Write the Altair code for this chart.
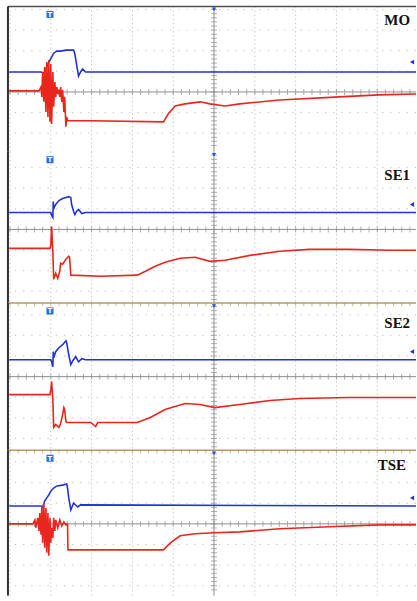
import altair as alt
import pandas as pd

# ---------------- data (time and voltage in screen divisions) ----------------
PANELS = ["MO", "SE1", "SE2", "TSE"]

MO_BLUE_T = [-5.02, -4.24, -4.17, -4.12, -4.07, -4.02, -3.98, -3.93, -3.85, -3.76, -3.63, -3.51, -3.44, -3.41, -3.37, -3.32, -3.27, -3.22, -3.15, 4.95]
MO_BLUE_V = [0.97, 0.97, 0.92, 1.11, 1.35, 1.55, 1.69, 1.88, 1.98, 1.98, 2.03, 2.03, 2.03, 1.84, 1.35, 0.77, 0.97, 1.11, 0.97, 0.97]
MO_RED_T = [-5.02, -4.29, -4.24, -4.22, -4.20, -4.17, -4.15, -4.12, -4.10, -4.07, -4.05, -4.02, -4.00, -3.98, -3.95, -3.93, -3.90, -3.88, -3.85, -3.83, -3.80, -3.78, -3.76, -3.73, -3.71, -3.68, -3.66, -3.63, -3.61, -3.59, -3.02, -1.24, -1.12, -0.95, -0.71, -0.34, -0.10, 0.27, 0.63, 1.61, 3.07, 4.05, 4.95]
MO_RED_V = [0.05, 0.05, 0.24, -0.24, 0.97, -0.48, 1.21, -0.97, 1.45, -1.21, 1.55, -1.45, 1.35, -1.55, 0.97, -0.72, 0.48, -0.24, 0.24, -0.10, 0.10, -0.24, 0.24, -0.48, 0.10, -0.97, -0.24, -1.69, -1.21, -1.40, -1.40, -1.45, -1.06, -0.68, -0.58, -0.48, -0.58, -0.68, -0.58, -0.39, -0.24, -0.14, -0.10]

SE1_BLUE_T = [-5.02, -4.00, -3.98, -3.95, -3.94, -3.93, -3.88, -3.80, -3.71, -3.56, -3.51, -3.49, -3.44, -3.41, -3.37, -3.32, -3.24, -3.15, 4.95]
SE1_BLUE_V = [0.82, 0.82, 0.68, 0.58, 1.35, 1.01, 1.21, 1.40, 1.50, 1.59, 1.55, 1.21, 0.87, 0.72, 0.87, 0.97, 0.77, 0.82, 0.82]
SE1_RED_T = [-5.02, -4.02, -4.00, -3.98, -3.95, -3.93, -3.88, -3.83, -3.78, -3.76, -3.71, -3.63, -3.56, -3.54, -3.51, -2.78, -1.88, -1.68, -1.44, -1.20, -0.83, -0.46, -0.10, 0.27, 0.88, 1.61, 2.34, 3.32, 4.29, 4.95]
SE1_RED_V = [-0.92, -0.92, -0.77, 0.14, -1.06, -2.42, -2.13, -2.37, -2.03, -1.64, -1.69, -1.45, -1.30, -1.35, -2.22, -2.27, -2.22, -2.03, -1.79, -1.59, -1.40, -1.35, -1.55, -1.50, -1.26, -1.06, -0.97, -0.97, -1.01, -1.01]

SE2_BLUE_T = [-5.02, -4.00, -3.98, -3.95, -3.94, -3.93, -3.88, -3.80, -3.71, -3.63, -3.61, -3.56, -3.51, -3.46, -3.39, -3.32, -3.24, -3.15, 4.95]
SE2_BLUE_V = [0.82, 0.82, 0.72, 0.48, 1.21, 0.92, 1.21, 1.40, 1.55, 1.74, 1.64, 1.06, 0.58, 0.77, 0.97, 0.72, 0.87, 0.82, 0.82]
SE2_RED_T = [-5.02, -4.02, -4.00, -3.98, -3.95, -3.93, -3.88, -3.80, -3.76, -3.71, -3.68, -3.66, -3.63, -3.61, -3.02, -2.90, -2.85, -1.88, -1.56, -1.20, -0.71, -0.34, 0.02, 0.63, 1.37, 2.10, 3.32, 4.95]
SE2_RED_V = [-0.87, -0.87, -0.63, -0.24, -1.11, -2.46, -2.32, -2.46, -2.27, -1.84, -1.50, -1.59, -2.17, -2.22, -2.22, -2.42, -2.22, -2.22, -1.98, -1.59, -1.30, -1.35, -1.50, -1.35, -1.16, -1.06, -1.01, -1.01]

TSE_BLUE_T = [-5.02, -4.24, -4.20, -4.15, -4.10, -4.05, -4.00, -3.93, -3.85, -3.71, -3.61, -3.59, -3.56, -3.51, -3.44, -3.34, -3.27, 4.95]
TSE_BLUE_V = [0.87, 0.87, 0.82, 1.11, 1.26, 1.40, 1.59, 1.74, 1.84, 1.88, 1.93, 1.74, 1.26, 0.68, 1.01, 0.82, 0.92, 0.87]
TSE_RED_T = [-5.02, -4.44, -4.39, -4.37, -4.32, -4.29, -4.27, -4.24, -4.22, -4.20, -4.17, -4.15, -4.12, -4.10, -4.07, -4.05, -4.02, -4.00, -3.98, -3.95, -3.93, -3.90, -3.88, -3.83, -3.78, -3.73, -3.68, -3.63, -3.59, -3.58, -2.78, -1.24, -1.07, -0.83, -0.46, 0.02, 0.63, 1.61, 2.83, 4.05, 4.95]
TSE_RED_V = [0.00, 0.00, 0.19, -0.19, 0.29, -0.34, 0.53, -0.53, 0.87, -0.92, 1.01, -1.16, 0.77, -1.40, 0.53, -1.55, 0.29, -0.92, -0.19, -0.68, 0.29, -0.34, 0.19, -0.19, 0.19, -0.10, 0.10, -0.05, 0.00, -1.26, -1.26, -1.26, -0.92, -0.58, -0.48, -0.43, -0.39, -0.24, -0.14, -0.05, -0.05]

TRACES = {
    "MO": (MO_BLUE_T, MO_BLUE_V, MO_RED_T, MO_RED_V),
    "SE1": (SE1_BLUE_T, SE1_BLUE_V, SE1_RED_T, SE1_RED_V),
    "SE2": (SE2_BLUE_T, SE2_BLUE_V, SE2_RED_T, SE2_RED_V),
    "TSE": (TSE_BLUE_T, TSE_BLUE_V, TSE_RED_T, TSE_RED_V),
}
CH1_OFFSET = [1.45, 1.21, 1.21, 1.26]   # channel-1 level marker at right edge
TRIGGER_T = -4.02                        # trigger position (divisions)

# ---------------- layout / style ----------------
BLUE = "#2233d4"
RED = "#e8261e"
GRID = "#bdbdbd"
AXIS = "#8e8e8e"
HEIGHTS = [146, 152, 148, 146]
Y_DOMAINS = [(-2.90, 4.15), (-3.57, 3.77), (-3.57, 3.57), (-3.48, 3.57)]
TOP_BORDER = ["#505050", None, "#b89a66", "#b89a66"]
LABEL_Y = [19, 28, 25, 20]
LABEL_X = [404, 404, 404, 400]
W = 410
X_DOMAIN = [-5.05, 4.95]


def panel(i):
    name = PANELS[i]
    bt, bv, rt, rv = TRACES[name]
    ylo, yhi = Y_DOMAINS[i]
    xs = alt.Scale(domain=X_DOMAIN, nice=False, zero=False)
    ys = alt.Scale(domain=[ylo, yhi], nice=False, zero=False)
    X = lambda f: alt.X(f, scale=xs, axis=None)
    Y = lambda f: alt.Y(f, scale=ys, axis=None)

    vgrid = pd.DataFrame({"x": [k for k in range(-5, 5) if k != 0]})
    hgrid = pd.DataFrame({"y": [k for k in range(-4, 5) if ylo < k < yhi and k != 0]})
    layers = [
        alt.Chart(vgrid).mark_rule(color=GRID, strokeWidth=1, strokeDash=[1.2, 2.94]).encode(x=X("x:Q")),
        alt.Chart(hgrid).mark_rule(color=GRID, strokeWidth=1, strokeDash=[1.2, 7.0]).encode(y=Y("y:Q")),
        alt.Chart(pd.DataFrame({"x": [0]})).mark_rule(color=AXIS, strokeWidth=1).encode(x=X("x:Q")),
        alt.Chart(pd.DataFrame({"y": [0]})).mark_rule(color=AXIS, strokeWidth=1).encode(y=Y("y:Q")),
    ]
    xt = pd.DataFrame({"x": [round(-5 + 0.2 * k, 2) for k in range(50)], "y": 0.0})
    yt = pd.DataFrame({"y": [round(-4 + 0.2 * k, 2) for k in range(41) if ylo + 0.1 < -4 + 0.2 * k < yhi - 0.1], "x": 0.0})
    layers.append(alt.Chart(xt).mark_tick(orient="vertical", size=6, thickness=1, color=AXIS).encode(x=X("x:Q"), y=Y("y:Q")))
    layers.append(alt.Chart(yt).mark_tick(orient="horizontal", size=6, thickness=1, color=AXIS).encode(x=X("x:Q"), y=Y("y:Q")))

    if TOP_BORDER[i]:
        layers.append(alt.Chart(pd.DataFrame({"y": [yhi]})).mark_rule(color=TOP_BORDER[i], strokeWidth=1.5).encode(y=Y("y:Q")))
        if i >= 2:
            tt = pd.DataFrame({"x": [round(-5 + 0.2 * k, 2) for k in range(50)], "y": yhi - 0.06})
            layers.append(alt.Chart(tt).mark_tick(orient="vertical", size=4, thickness=1, color=TOP_BORDER[i]).encode(x=X("x:Q"), y=Y("y:Q")))
    layers.append(alt.Chart(pd.DataFrame({"x": [X_DOMAIN[0]]})).mark_rule(color="#303030", strokeWidth=2).encode(x=X("x:Q")))

    rows = [{"ch": "CH1", "t": t, "v": v, "k": k} for k, (t, v) in enumerate(zip(bt, bv))]
    rows += [{"ch": "CH2", "t": t, "v": v, "k": k} for k, (t, v) in enumerate(zip(rt, rv))]
    df = pd.DataFrame(rows)
    layers.append(
        alt.Chart(df).mark_line(strokeWidth=1.6, clip=True).encode(
            x=X("t:Q"), y=Y("v:Q"),
            color=alt.Color("ch:N", scale=alt.Scale(domain=["CH1", "CH2"], range=[BLUE, RED]), legend=None),
            order="k:Q", detail="ch:N",
        )
    )
    # scope UI markers
    layers.append(alt.Chart(pd.DataFrame({"t": [TRIGGER_T]})).mark_square(color="#2a6fe0", opacity=1, size=50).encode(x=X("t:Q"), y=alt.value(8)))
    layers.append(alt.Chart(pd.DataFrame({"t": [TRIGGER_T], "s": ["T"]})).mark_text(color="white", fontSize=7, fontWeight="bold", font="DejaVu Sans").encode(x=X("t:Q"), y=alt.value(8.5), text="s:N"))
    layers.append(alt.Chart(pd.DataFrame({"t": [0]})).mark_point(shape="triangle-down", filled=True, color="#2a4fd0", size=18, opacity=1).encode(x=X("t:Q"), y=alt.value(3)))
    layers.append(alt.Chart(pd.DataFrame({"v": [CH1_OFFSET[i]]})).mark_point(shape="triangle-left", filled=True, color=BLUE, size=24, opacity=1).encode(x=alt.value(W - 4), y=Y("v:Q")))
    layers.append(
        alt.Chart(pd.DataFrame({"label": [name]})).mark_text(
            font="Liberation Serif", fontWeight="bold", fontSize=15, align="right", baseline="alphabetic", color="#111111"
        ).encode(x=alt.value(LABEL_X[i]), y=alt.value(LABEL_Y[i]), text="label:N")
    )
    return alt.layer(*layers).properties(width=W, height=HEIGHTS[i])


chart = (
    alt.vconcat(*[panel(i) for i in range(4)], spacing=0, bounds="flush")
    .properties(padding={"left": 7, "top": 4, "right": 0, "bottom": 5}, background="white")
    .configure_view(stroke=None)
)
chart.save("out.html", embed_options={"renderer": "svg", "actions": False})
